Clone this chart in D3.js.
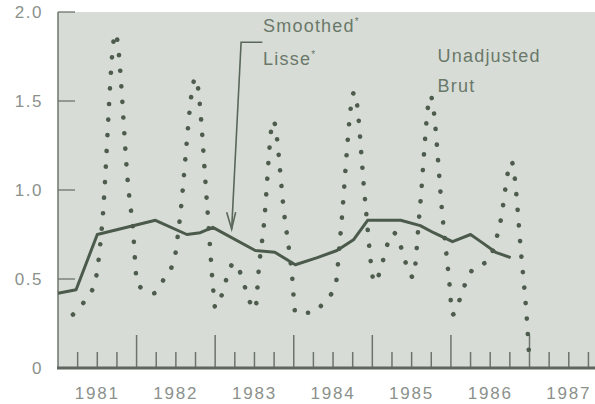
<!DOCTYPE html>
<html>
<head>
<meta charset="utf-8">
<script src="https://d3js.org/d3.v7.min.js"></script>
<style>
  body { margin: 0; background: #fff; }
  text { font-family: "Liberation Sans", Arial, sans-serif; }
</style>
</head>
<body>
<svg id="chart"></svg>
<script>
// unadjusted series (decimal year, value)
var rawT = [1981.19, 1981.36, 1981.47, 1981.52, 1981.56, 1981.73, 1981.90, 1981.95, 1982.01,
            1982.22, 1982.36, 1982.48, 1982.54, 1982.75, 1982.90, 1982.97, 1983.00,
            1983.24, 1983.51, 1983.56, 1983.61, 1983.74, 1983.88, 1983.98, 1984.02,
            1984.24, 1984.40, 1984.53, 1984.59, 1984.77, 1984.91, 1984.99, 1985.02,
            1985.27, 1985.52, 1985.60, 1985.74, 1985.90, 1985.98, 1986.02,
            1986.17, 1986.27, 1986.48, 1986.62, 1986.77, 1986.90, 1986.97, 1987.00];
var rawV = [0.30, 0.39, 0.48, 0.62, 0.80, 1.88, 0.99, 0.80, 0.47,
            0.42, 0.51, 0.61, 0.80, 1.63, 0.90, 0.47, 0.34,
            0.59, 0.33, 0.58, 0.76, 1.39, 0.86, 0.51, 0.31,
            0.31, 0.38, 0.46, 0.73, 1.55, 0.93, 0.56, 0.48,
            0.76, 0.51, 0.87, 1.53, 0.82, 0.48, 0.30,
            0.46, 0.55, 0.61, 0.80, 1.16, 0.61, 0.25, 0.03];

// smoothed series
var smT = [1981.00, 1981.23, 1981.50, 1982.24, 1982.64, 1982.81, 1982.97, 1983.51, 1983.76,
           1984.02, 1984.30, 1984.55, 1984.76, 1984.94, 1985.36, 1985.61, 1985.78,
           1986.02, 1986.25, 1986.38, 1986.57, 1986.76];
var smV = [0.42, 0.44, 0.75, 0.83, 0.75, 0.76, 0.79, 0.66, 0.65,
           0.58, 0.62, 0.66, 0.72, 0.83, 0.83, 0.80, 0.76,
           0.71, 0.75, 0.71, 0.65, 0.62];

var years = [1981, 1982, 1983, 1984, 1985, 1986, 1987];
var yTicks = [0, 0.5, 1.0, 1.5, 2.0];
var yLabels = ["0", "0.5", "1.0", "1.5", "2.0"];

var W = 595, H = 404;
var svg = d3.select("#chart").attr("width", W).attr("height", H);

var x = d3.scaleLinear().domain([1981, 1987]).range([58, 529.5]);
var y = d3.scaleLinear().domain([0, 2]).range([368, 12]);

// panel background
svg.append("rect")
   .attr("x", x(1981)).attr("y", y(2))
   .attr("width", W - x(1981)).attr("height", y(0) - y(2))
   .attr("fill", "#d7ddd6");

var axisColor = "#6d746d";
var labelColor = "#8b918b";

// y axis line + inward ticks
svg.append("line")
   .attr("x1", x(1981)).attr("x2", x(1981))
   .attr("y1", y(2)).attr("y2", y(0))
   .attr("stroke", axisColor).attr("stroke-width", 1.5);
svg.selectAll(".ytick").data(yTicks.slice(1)).enter().append("line")
   .attr("x1", x(1981)).attr("x2", x(1981) + 17)
   .attr("y1", function(d) { return y(d); })
   .attr("y2", function(d) { return y(d); })
   .attr("stroke", axisColor).attr("stroke-width", 1.3);
svg.selectAll(".ylab").data(yTicks).enter().append("text")
   .attr("x", 43)
   .attr("y", function(d) { return y(d) + 6; })
   .attr("text-anchor", "end")
   .attr("font-size", 17)
   .attr("letter-spacing", 1.5)
   .attr("fill", labelColor)
   .text(function(d, i) { return yLabels[i]; });

// x axis: quarterly ticks, taller ticks at year starts
var quarters = d3.range(1981.25, 1987.8, 0.25);
svg.selectAll(".xtick").data(quarters).enter().append("line")
   .attr("x1", function(d) { return x(d); })
   .attr("x2", function(d) { return x(d); })
   .attr("y1", function(d) { return Number.isInteger(d) ? y(0) - 33 : y(0) - 16; })
   .attr("y2", y(0))
   .attr("stroke", axisColor).attr("stroke-width", 1.5);
svg.append("line")
   .attr("x1", x(1981) - 1).attr("x2", W)
   .attr("y1", y(0)).attr("y2", y(0))
   .attr("stroke", "#5f665f").attr("stroke-width", 3);
svg.selectAll(".xlab").data(years).enter().append("text")
   .attr("x", function(d) { return x(d + 0.5); })
   .attr("y", 399)
   .attr("text-anchor", "middle")
   .attr("font-size", 17)
   .attr("letter-spacing", 1.8)
   .attr("fill", labelColor)
   .text(function(d) { return d; });

// unadjusted series as a dotted line
var raw = rawT.map(function(t, i) { return [t, rawV[i]]; });
var sm = smT.map(function(t, i) { return [t, smV[i]]; });

var line = d3.line()
   .x(function(d) { return x(d[0]); })
   .y(function(d) { return y(d[1]); });

svg.append("path")
   .datum(raw)
   .attr("d", line.curve(d3.curveMonotoneX))
   .attr("fill", "none")
   .attr("stroke", "#4e5c4e")
   .attr("stroke-width", 4.6)
   .attr("stroke-linecap", "round")
   .attr("stroke-dasharray", "0.1 15.5");

svg.append("path")
   .datum(sm)
   .attr("d", d3.line().x(function(d) { return x(d[0]); }).y(function(d) { return y(d[1]); }))
   .attr("fill", "none")
   .attr("stroke", "#4b5a4b")
   .attr("stroke-width", 3)
   .attr("stroke-linejoin", "round");

// annotations
var noteColor = "#6a786a";
var tip = [1983.21, 0.78], elbow = [1983.33, 1.83], elbowEnd = [1983.60, 1.83];
svg.append("path")
   .attr("d", "M" + x(elbowEnd[0]) + "," + y(elbowEnd[1]) +
              "L" + x(elbow[0]) + "," + y(elbow[1]) +
              "L" + x(tip[0]) + "," + y(tip[1]))
   .attr("fill", "none").attr("stroke", "#5a675a").attr("stroke-width", 1.6);
svg.append("path")
   .attr("d", "M" + (x(tip[0]) - 5) + "," + (y(tip[1]) - 17) +
              "L" + x(tip[0]) + "," + y(tip[1]) +
              "L" + (x(tip[0]) + 4) + "," + (y(tip[1]) - 17))
   .attr("fill", "none").attr("stroke", "#5a675a").attr("stroke-width", 1.6);

function note(t, v, label) {
  var tx = svg.append("text")
     .attr("x", x(t)).attr("y", y(v))
     .attr("font-size", 18)
     .attr("letter-spacing", 1.2)
     .attr("fill", noteColor)
     .text(label);
  return tx;
}
note(1983.61, 1.89, "Smoothed").append("tspan")
   .attr("font-size", 10).attr("dy", -7).text("*");
note(1983.61, 1.70, "Lisse").append("tspan")
   .attr("font-size", 10).attr("dy", -7).text("*");
note(1985.83, 1.72, "Unadjusted");
note(1985.83, 1.55, "Brut");
</script>
</body>
</html>
